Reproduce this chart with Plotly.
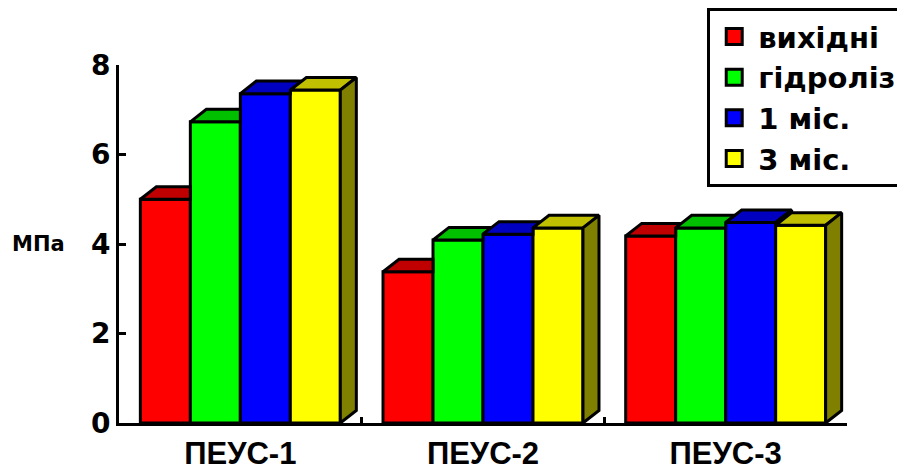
import plotly.graph_objects as go

categories = ["ПЕУС-1", "ПЕУС-2", "ПЕУС-3"]
series_names = ["вихідні", "гідроліз", "1 міс.", "3 міс."]
vals_vykhidni = [5.0, 3.38, 4.18]
vals_hidroliz = [6.73, 4.09, 4.36]
vals_1mis = [7.36, 4.22, 4.48]
vals_3mis = [7.44, 4.36, 4.42]
series_values = [vals_vykhidni, vals_hidroliz, vals_1mis, vals_3mis]

front_colors = ["#FF0000", "#00FF00", "#0000FF", "#FFFF00"]
top_colors = ["#C00000", "#00C000", "#0000C0", "#C0C000"]
side_colors = ["#800000", "#008000", "#000080", "#808000"]

FONT = "Liberation Sans, Arial, sans-serif"
FONT_WIDE = "DejaVu Sans, sans-serif"
BARGAP = 0.176
DX = 0.066   # depth offset in category units
DY = 0.28    # depth offset in value units
LW = 3
PAGE_PAD = 8  # default body margin of the html page

fig = go.Figure()

# front faces
for name, vals, col in zip(series_names, series_values, front_colors):
    fig.add_trace(go.Bar(
        x=categories, y=vals, name=name, showlegend=False,
        marker=dict(color=col, line=dict(color="black", width=LW)),
        xaxis="x", yaxis="y", hoverinfo="x+y+name",
    ))

n = len(series_values)
bw = (1 - BARGAP) / n

# top and side faces (computed from data values)
for s in range(n):
    tx, ty, sx, sy = [], [], [], []
    for g in range(len(categories)):
        h = series_values[s][g]
        L = g - (1 - BARGAP) / 2 + s * bw
        R = L + bw
        if s == n - 1:
            pts = [(L, h), (R, h), (R + DX, h + DY), (L + DX, h + DY)]
            side = [(R, 0), (R + DX, DY), (R + DX, h + DY), (R, h)]
        else:
            hn = series_values[s + 1][g]
            if hn >= h + DY:
                pts = [(L, h), (R, h), (R, h + DY), (L + DX, h + DY)]
                side = None
            elif hn > h:
                xc = R + (h + DY - hn) * DX / DY
                pts = [(L, h), (R, h), (R, hn), (xc, h + DY), (L + DX, h + DY)]
                side = None
            else:
                pts = [(L, h), (R, h), (R + DX, h + DY), (L + DX, h + DY)]
                side = [(R, hn), (R + DX, hn + DY), (R + DX, h + DY), (R, h)]
        for p in pts + [pts[0]]:
            tx.append(p[0]); ty.append(p[1])
        tx.append(None); ty.append(None)
        if side:
            for p in side + [side[0]]:
                sx.append(p[0]); sy.append(p[1])
            sx.append(None); sy.append(None)
    fig.add_trace(go.Scatter(
        x=tx, y=ty, mode="lines", fill="toself", fillcolor=top_colors[s],
        line=dict(color="black", width=LW), xaxis="x2", yaxis="y",
        showlegend=False, hoverinfo="skip",
    ))
    if sx:
        fig.add_trace(go.Scatter(
            x=sx, y=sy, mode="lines", fill="toself", fillcolor=side_colors[s],
            line=dict(color="black", width=LW), xaxis="x2", yaxis="y",
            showlegend=False, hoverinfo="skip",
        ))

# legend entries (square swatches)
for name, col in zip(series_names, front_colors):
    fig.add_trace(go.Scatter(
        x=[None], y=[None], mode="markers", name=name,
        marker=dict(symbol="square", size=16, color=col,
                    line=dict(color="black", width=LW)),
        xaxis="x2", yaxis="y", showlegend=True,
    ))

fig.update_layout(
    width=905 - PAGE_PAD, height=471 - PAGE_PAD,
    margin=dict(l=119 - PAGE_PAD, r=58, t=65 - PAGE_PAD, b=48, autoexpand=False),
    paper_bgcolor="white", plot_bgcolor="white",
    barmode="group", bargap=BARGAP, bargroupgap=0,
    showlegend=True,
    font=dict(family=FONT, color="black"),
    xaxis=dict(
        type="category", range=[-0.5, 2.5], tickson="boundaries",
        ticks="inside", ticklen=6, tickwidth=LW, tickcolor="black",
        showline=True, linecolor="black", linewidth=LW,
        showgrid=False, zeroline=False, automargin=False,
        ticklabelstandoff=1,
        tickfont=dict(family=FONT, size=31, weight="bold", color="black"),
    ),
    xaxis2=dict(
        type="linear", range=[-0.5, 2.5], overlaying="x", anchor="y",
        visible=False, showgrid=False, zeroline=False,
    ),
    yaxis=dict(
        range=[0, 8], tickvals=[0, 2, 4, 6, 8],
        ticks="inside", ticklen=7, tickwidth=LW, tickcolor="black",
        showline=True, linecolor="black", linewidth=LW,
        showgrid=False, zeroline=False, automargin=False,
        tickfont=dict(family=FONT_WIDE, size=28, weight="bold", color="black"),
    ),
    legend=dict(
        x=0.808, y=1.159, xanchor="left", yanchor="top",
        bordercolor="black", borderwidth=LW, bgcolor="white",
        font=dict(family=FONT_WIDE, size=29, weight="bold", color="black"),
        traceorder="normal", itemwidth=38,
    ),
    annotations=[dict(
        text="МПа", xref="paper", yref="y", x=-0.11, y=4,
        xanchor="center", yanchor="middle", showarrow=False,
        font=dict(family=FONT_WIDE, size=21, weight="bold", color="black"),
    )],
)

fig.write_html("out.html")
